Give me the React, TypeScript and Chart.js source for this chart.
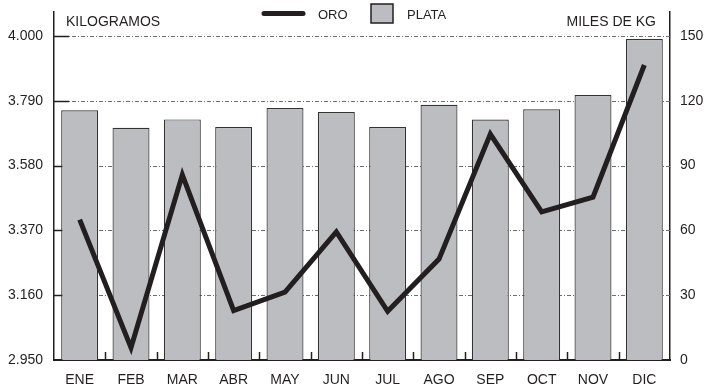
import React, { useEffect, useRef } from "react";
import { Chart, registerables } from "chart.js";

Chart.register(...registerables);

const months = ["ENE", "FEB", "MAR", "ABR", "MAY", "JUN", "JUL", "AGO", "SEP", "OCT", "NOV", "DIC"];
const oro = [3405, 2990, 3550, 3110, 3170, 3365, 3108, 3277, 3682, 3430, 3478, 3906];
const plata = [115.6, 107.5, 111.4, 107.9, 116.7, 114.8, 107.9, 118.2, 111.3, 116.1, 122.7, 148.6];
const leftTicks = [2950, 3160, 3370, 3580, 3790, 4000];
const rightTicks = [0, 30, 60, 90, 120, 150];
const leftTitle = "KILOGRAMOS";
const rightTitle = "MILES DE KG";
const legendOro = "ORO";
const legendPlata = "PLATA";

const FONT = "'Liberation Sans', Arial, sans-serif";
const INK = "#231f20";
const BAR_FILL = "#bcbdc0";

const fmt = (v: number) => {
  const s = String(Math.round(v));
  return s.length > 3 ? s.slice(0, s.length - 3) + "." + s.slice(s.length - 3) : s;
};

const decor = {
  id: "decor",
  beforeDatasetsDraw(chart: any) {
    const { ctx, chartArea: a, scales } = chart;
    const y = scales.y;
    ctx.save();
    ctx.strokeStyle = "#6d6e71";
    ctx.lineWidth = 1;
    ctx.setLineDash([4, 2, 1, 2]);
    for (const v of leftTicks) {
      if (v === leftTicks[0]) continue;
      const py = Math.round(y.getPixelForValue(v)) + 0.5;
      ctx.beginPath();
      ctx.moveTo(a.left, py);
      ctx.lineTo(a.right, py);
      ctx.stroke();
    }
    ctx.setLineDash([]);
    ctx.strokeStyle = INK;
    ctx.lineWidth = 1.5;
    for (const v of leftTicks) {
      if (v === leftTicks[0]) continue;
      const py = Math.round(y.getPixelForValue(v)) + 0.5;
      ctx.beginPath();
      ctx.moveTo(a.left, py);
      ctx.lineTo(a.left + 15, py);
      ctx.stroke();
    }
    const n = months.length;
    for (let i = 1; i < n; i++) {
      const px = Math.round(a.left + (i * (a.right - a.left)) / n) + 0.5;
      ctx.beginPath();
      ctx.moveTo(px, a.bottom);
      ctx.lineTo(px, a.bottom - 8);
      ctx.stroke();
    }
    ctx.restore();
  },
  afterDraw(chart: any) {
    const { ctx, chartArea: a } = chart;
    ctx.save();
    ctx.fillStyle = INK;
    ctx.font = `14px ${FONT}`;
    ctx.textBaseline = "middle";
    ctx.textAlign = "left";
    ctx.fillText(leftTitle, a.left + 12, 22);
    ctx.textAlign = "right";
    ctx.fillText(rightTitle, a.right - 14, 22);
    // legend
    ctx.strokeStyle = INK;
    ctx.lineWidth = 5;
    ctx.lineCap = "round";
    ctx.beginPath();
    ctx.moveTo(264, 13.5);
    ctx.lineTo(303, 13.5);
    ctx.stroke();
    ctx.font = `13px ${FONT}`;
    ctx.textAlign = "left";
    ctx.fillText(legendOro, 318, 15);
    ctx.fillStyle = BAR_FILL;
    ctx.fillRect(371, 4, 22, 19);
    ctx.lineWidth = 1.5;
    ctx.lineCap = "butt";
    ctx.strokeRect(371, 4, 22, 19);
    ctx.fillStyle = INK;
    ctx.fillText(legendPlata, 407, 15);
    ctx.restore();
  },
};

export default function App() {
  const ref = useRef<HTMLCanvasElement>(null);
  useEffect(() => {
    if (!ref.current) return;
    const leftMax = 4000 + (24 * 1050) / 324;
    const rightMax = 150 + (24 * 150) / 324;
    const chart = new Chart(ref.current, {
      type: "bar",
      data: {
        labels: months,
        datasets: [
          {
            type: "line",
            label: legendOro,
            data: oro,
            yAxisID: "y",
            borderColor: INK,
            borderWidth: 5,
            pointRadius: 0,
            tension: 0,
            borderJoinStyle: "miter",
            borderCapStyle: "butt",
            order: 0,
          } as any,
          {
            type: "bar",
            label: legendPlata,
            data: plata,
            yAxisID: "y1",
            backgroundColor: BAR_FILL,
            borderColor: "#333333",
            borderWidth: 1.2,
            barPercentage: 0.72,
            categoryPercentage: 1,
            order: 1,
          } as any,
        ],
      },
      options: {
        responsive: false,
        animation: false,
        layout: { padding: { top: 12, left: 0, right: 0, bottom: 0 } },
        plugins: { legend: { display: false }, tooltip: { enabled: false } },
        scales: {
          x: {
            grid: { display: false, drawTicks: false },
            border: { display: true, color: INK, width: 2 },
            ticks: { color: INK, font: { family: FONT, size: 14 }, padding: 12, maxRotation: 0 },
            afterFit: (s: any) => {
              s.height = 28;
              s.paddingLeft = 0;
              s.paddingRight = 0;
            },
          },
          y: {
            position: "left",
            min: 2950,
            max: leftMax,
            afterBuildTicks: (s: any) => {
              s.ticks = leftTicks.map((v) => ({ value: v }));
            },
            grid: { display: false, drawTicks: false },
            border: { display: true, color: INK, width: 1.5 },
            ticks: {
              color: INK,
              font: { family: FONT, size: 14 },
              padding: 11,
              callback: (v: any) => fmt(Number(v)),
            },
            afterFit: (s: any) => {
              s.width = 54;
              s.paddingTop = 0;
              s.paddingBottom = 0;
            },
          },
          y1: {
            position: "right",
            min: 0,
            max: rightMax,
            afterBuildTicks: (s: any) => {
              s.ticks = rightTicks.map((v) => ({ value: v }));
            },
            grid: { display: false, drawTicks: false },
            border: { display: true, color: INK, width: 1.5 },
            ticks: {
              color: INK,
              font: { family: FONT, size: 14 },
              padding: 10,
              callback: (v: any) => String(v),
            },
            afterFit: (s: any) => {
              s.width = 36;
              s.paddingTop = 0;
              s.paddingBottom = 0;
            },
          },
        },
      },
      plugins: [decor],
    });
    return () => chart.destroy();
  }, []);
  return (
    <div style={{ position: "fixed", left: 0, top: 0, width: 706, height: 388, background: "#fff" }}>
      <canvas ref={ref} width={706} height={388} style={{ width: 706, height: 388 }} />
    </div>
  );
}
